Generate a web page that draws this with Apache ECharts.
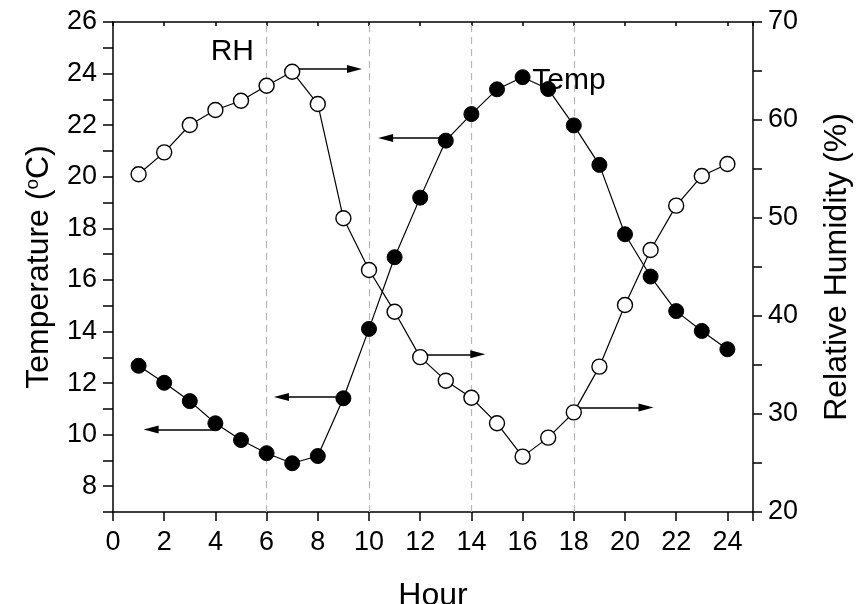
<!DOCTYPE html>
<html>
<head>
<meta charset="utf-8">
<script src="https://cdn.jsdelivr.net/npm/echarts@6/dist/echarts.min.js"></script>
<style>
html,body{margin:0;padding:0;background:#fff;}
#chart{width:856px;height:604px;}
</style>
</head>
<body>
<div id="chart"></div>
<script>
const hours = [1,2,3,4,5,6,7,8,9,10,11,12,13,14,15,16,17,18,19,20,21,22,23,24];
const tempValues = [12.67,12.01,11.30,10.44,9.79,9.28,8.89,9.17,11.41,14.10,16.88,19.19,21.40,22.43,23.39,23.86,23.40,21.99,20.46,17.77,16.13,14.79,14.02,13.31];
const rhValues = [54.46,56.70,59.49,61.02,61.97,63.50,64.93,61.63,49.97,44.69,40.44,35.80,33.40,31.66,29.05,25.65,27.59,30.17,34.83,41.12,46.73,51.26,54.29,55.51];
const guideHours = [6,10,14,18];
// arrows: [fromHour, fromValue, toHour, toValue]
const tempArrows = [[13,21.5,10.65,21.5],[9,11.46,6.58,11.46],[4,10.2,1.49,10.2]];
const rhArrows = [[7,65.2,9.43,65.2],[12,36.09,14.25,36.09],[18,30.66,20.82,30.66]];
const rhLabel = [4.66, 66.94, 'RH'];
const tempLabel = [17.81, 23.71, 'Temp'];

const FONT = 'Liberation Sans, Arial, sans-serif';
const TICK_FS = 27;
const NAME_FS = 32;
const chart = echarts.init(document.getElementById('chart'), null, {renderer:'canvas'});

function arrowData(list){
  return list.map(a => [
    {coord:[a[0],a[1]], symbol:'none'},
    {coord:[a[2],a[3]], symbol:'path://M5,0 L10,18 L0,18 Z', symbolSize:[8,15]}
  ]);
}
const arrowStyle = {color:'#000', width:1.5, type:'solid'};

const option = {
  animation:false,
  backgroundColor:'#fff',
  grid:{left:113, right:103, top:22, bottom:92, containLabel:false, outerBoundsMode:'none'},
  xAxis:[{
    type:'value', min:0, max:25, interval:2,
    name:'Hour', nameLocation:'middle', nameGap:68,
    nameTextStyle:{fontFamily:FONT, fontSize:NAME_FS, color:'#000'},
    axisLine:{show:true, onZero:false, lineStyle:{color:'#000', width:1.5}},
    axisTick:{show:true, inside:false, length:9, lineStyle:{color:'#000', width:1.5}},
    axisLabel:{fontFamily:FONT, fontSize:TICK_FS, color:'#000', margin:17,
      formatter:v => (v <= 24 ? String(v) : '')},
    splitLine:{show:false}
  },{
    type:'value', position:'top', min:0, max:25, interval:2,
    axisLine:{show:true, onZero:false, lineStyle:{color:'#000', width:1.5}},
    axisTick:{show:true, inside:true, length:4, lineStyle:{color:'#000', width:1.5}},
    axisLabel:{show:false}, splitLine:{show:false}
  }],
  yAxis:[{
    type:'value', min:7, max:26, interval:1, position:'left',
    name:'Temperature ({sup|o}C)', nameLocation:'middle', nameGap:58, nameRotate:90,
    nameTextStyle:{fontFamily:FONT, fontSize:NAME_FS, color:'#000',
      rich:{sup:{fontFamily:FONT, fontSize:19, color:'#000', verticalAlign:'top', padding:[0,0,10,0]}}},
    axisLine:{show:true, onZero:false, lineStyle:{color:'#000', width:1.5}},
    axisTick:{show:true, inside:false, length:10, lineStyle:{color:'#000', width:1.5}},
    axisLabel:{fontFamily:FONT, fontSize:TICK_FS, color:'#000', margin:16,
      formatter:v => (v % 2 === 0 ? String(v) : '')},
    splitLine:{show:false}
  },{
    type:'value', min:20, max:70, interval:5, position:'right',
    name:'Relative Humidity (%)', nameLocation:'middle', nameGap:68, nameRotate:90,
    nameTextStyle:{fontFamily:FONT, fontSize:NAME_FS, color:'#000'},
    axisLine:{show:true, onZero:false, lineStyle:{color:'#000', width:1.5}},
    axisTick:{show:true, inside:false, length:9, lineStyle:{color:'#000', width:1.5}},
    axisLabel:{fontFamily:FONT, fontSize:TICK_FS, color:'#000', margin:15,
      formatter:v => (v % 10 === 0 ? String(v) : '')},
    splitLine:{show:false}
  }],
  series:[{
    name:'RH', type:'line', xAxisIndex:0, yAxisIndex:1,
    data: hours.map((h,i)=>[h, rhValues[i]]),
    symbol:'circle', symbolSize:15, showAllSymbol:true,
    lineStyle:{color:'#000', width:1.2},
    itemStyle:{color:'#fff', borderColor:'#000', borderWidth:1.4},
    z:3,
    markLine:{
      silent:true, symbol:['none','none'], label:{show:false},
      lineStyle:{color:'#b8b8b8', width:1.2, type:[7,5]},
      data: guideHours.map(h => ({xAxis:h})),
      z:1
    },
    markPoint:{
      silent:true, symbol:'circle', symbolSize:0,
      label:{show:true, position:'inside', fontFamily:FONT, fontSize:30, color:'#000', formatter:rhLabel[2]},
      data:[{coord:[rhLabel[0], rhLabel[1]]}]
    }
  },{
    name:'Temp', type:'line', xAxisIndex:0, yAxisIndex:0,
    data: hours.map((h,i)=>[h, tempValues[i]]),
    symbol:'circle', symbolSize:15, showAllSymbol:true,
    lineStyle:{color:'#000', width:1.2},
    itemStyle:{color:'#000', borderColor:'#000', borderWidth:1},
    z:4,
    markPoint:{
      silent:true, symbol:'circle', symbolSize:0,
      label:{show:true, position:'inside', fontFamily:FONT, fontSize:30, color:'#000', formatter:tempLabel[2]},
      data:[{coord:[tempLabel[0], tempLabel[1]]}]
    }
  },{
    name:'tempArrows', type:'line', xAxisIndex:0, yAxisIndex:0, data:[],
    markLine:{silent:true, label:{show:false}, lineStyle:arrowStyle,
      itemStyle:{color:'#000'}, data: arrowData(tempArrows), z:2}
  },{
    name:'rhArrows', type:'line', xAxisIndex:0, yAxisIndex:1, data:[],
    markLine:{silent:true, label:{show:false}, lineStyle:arrowStyle,
      itemStyle:{color:'#000'}, data: arrowData(rhArrows), z:2}
  }]
};
chart.setOption(option);
</script>
</body>
</html>
